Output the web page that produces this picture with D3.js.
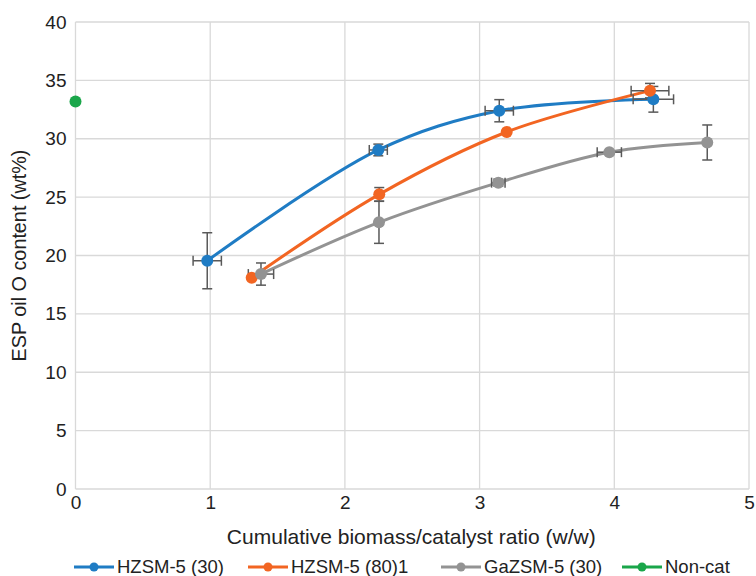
<!DOCTYPE html>
<html>
<head>
<meta charset="utf-8">
<script src="https://d3js.org/d3.v7.min.js"></script>
<style>
body{margin:0;background:#fff;}
text{font-family:"Liberation Sans",Arial,sans-serif;fill:#222;}
</style>
</head>
<body>
<svg id="chart" width="756" height="576"></svg>
<script>
// values
var xTicks=[0,1,2,3,4,5];
var yTicks=[0,5,10,15,20,25,30,35,40];
var names=["HZSM-5 (30)","HZSM-5 (80)1","GaZSM-5 (30)","Non-cat"];
var colors=["#1f7cc4","#f26522","#939393","#1aa64a"];

var hz30X=[0.978,2.248,3.146,4.29];
var hz30Y=[19.55,29.04,32.4,33.38];
var hz30YErr=[2.4,0.5,0.95,1.1];
var hz30XErr=[0.105,0.067,0.105,0.15];

var hz80X=[1.308,2.255,3.201,4.265];
var hz80Y=[18.1,25.24,30.58,34.12];
var hz80YErr=[0,0.58,0,0.62];
var hz80XErr=[0,0,0,0.14];

var gaX=[1.377,2.253,3.139,3.963,4.69];
var gaY=[18.41,22.84,26.24,28.85,29.68];
var gaYErr=[0.95,1.8,0.3,0.12,1.5];
var gaXErr=[0.094,0,0.05,0.09,0];

var noncatX=[0];
var noncatY=[33.2];

function pts(xs,ys,ye,xe){
  return xs.map(function(x,i){return {x:x,y:ys[i],ye:ye?ye[i]:0,xe:xe?xe[i]:0};});
}
var series=[
  {name:names[0],color:colors[0],data:pts(hz30X,hz30Y,hz30YErr,hz30XErr)},
  {name:names[1],color:colors[1],data:pts(hz80X,hz80Y,hz80YErr,hz80XErr)},
  {name:names[2],color:colors[2],data:pts(gaX,gaY,gaYErr,gaXErr)},
  {name:names[3],color:colors[3],data:pts(noncatX,noncatY)}
];

var svg=d3.select("#chart");
var xs=d3.scaleLinear().domain([0,5]).range([75.5,749]);
var ys=d3.scaleLinear().domain([0,40]).range([489,22]);

// grid
svg.append("g").selectAll("line").data(yTicks).enter().append("line")
 .attr("x1",xs(0)).attr("x2",xs(5))
 .attr("y1",function(d){return ys(d);}).attr("y2",function(d){return ys(d);})
 .attr("stroke","#d9d9d9").attr("stroke-width",1.3);
svg.append("g").selectAll("line").data(xTicks).enter().append("line")
 .attr("y1",ys(0)).attr("y2",ys(40))
 .attr("x1",function(d){return xs(d);}).attr("x2",function(d){return xs(d);})
 .attr("stroke","#d9d9d9").attr("stroke-width",1.3);

// axes (labels only)
var yAxis=d3.axisLeft(ys).tickValues(yTicks).tickSize(0).tickPadding(9).tickFormat(d3.format("d"));
var gy=svg.append("g").attr("transform","translate("+xs(0)+",0)").call(yAxis);
gy.select(".domain").remove();
gy.selectAll("text").style("font-size","19px").attr("fill","#222");

var xAxis=d3.axisBottom(xs).tickValues(xTicks).tickSize(0).tickPadding(7).tickFormat(d3.format("d"));
var gx=svg.append("g").attr("transform","translate(0,"+ys(0)+")").call(xAxis);
gx.select(".domain").remove();
gx.selectAll("text").style("font-size","19px").attr("fill","#222");

// axis titles
svg.append("text").attr("x",(xs(0)+xs(5))/2-1).attr("y",544).attr("text-anchor","middle")
 .style("font-size","21px").text("Cumulative biomass/catalyst ratio (w/w)");
svg.append("text").attr("transform","translate(26,"+((ys(0)+ys(40))/2)+") rotate(-90)")
 .attr("text-anchor","middle").style("font-size","19.8px").text("ESP oil O content (wt%)");

// lines
var line=d3.line().x(function(d){return xs(d.x);}).y(function(d){return ys(d.y);})
 .curve(d3.curveCatmullRom.alpha(0.5));
series.forEach(function(s){
  if(s.data.length>1){
    svg.append("path").datum(s.data).attr("d",line).attr("fill","none")
     .attr("stroke",s.color).attr("stroke-width",3);
  }
});

// error bars
var ec="#595959",cap=5;
series.forEach(function(s){
  var g=svg.append("g").attr("stroke",ec).attr("stroke-width",1.5).attr("fill","none");
  s.data.forEach(function(d){
    if(d.ye>0){
      var cx=xs(d.x),y1=ys(d.y+d.ye),y2=ys(d.y-d.ye);
      g.append("line").attr("x1",cx).attr("x2",cx).attr("y1",y1).attr("y2",y2);
      g.append("line").attr("x1",cx-cap).attr("x2",cx+cap).attr("y1",y1).attr("y2",y1);
      g.append("line").attr("x1",cx-cap).attr("x2",cx+cap).attr("y1",y2).attr("y2",y2);
    }
    if(d.xe>0){
      var cy=ys(d.y),x1=xs(d.x-d.xe),x2=xs(d.x+d.xe);
      g.append("line").attr("x1",x1).attr("x2",x2).attr("y1",cy).attr("y2",cy);
      g.append("line").attr("x1",x1).attr("x2",x1).attr("y1",cy-cap).attr("y2",cy+cap);
      g.append("line").attr("x1",x2).attr("x2",x2).attr("y1",cy-cap).attr("y2",cy+cap);
    }
  });
});

// markers
series.forEach(function(s){
  svg.append("g").selectAll("circle").data(s.data).enter().append("circle")
   .attr("cx",function(d){return xs(d.x);}).attr("cy",function(d){return ys(d.y);})
   .attr("r",6).attr("fill",s.color);
});

// legend
var legX=[74,248,441,622];
var lg=svg.append("g").attr("transform","translate(0,567)");
series.forEach(function(s,i){
  var g=lg.append("g").attr("transform","translate("+legX[i]+",0)");
  g.append("line").attr("x1",0).attr("x2",40).attr("y1",0).attr("y2",0)
   .attr("stroke",s.color).attr("stroke-width",3);
  g.append("circle").attr("cx",20).attr("cy",0).attr("r",4.5).attr("fill",s.color);
  g.append("text").attr("x",43).attr("y",0).attr("dy","0.35em")
   .style("font-size","18.5px").text(s.name);
});
</script>
</body>
</html>
